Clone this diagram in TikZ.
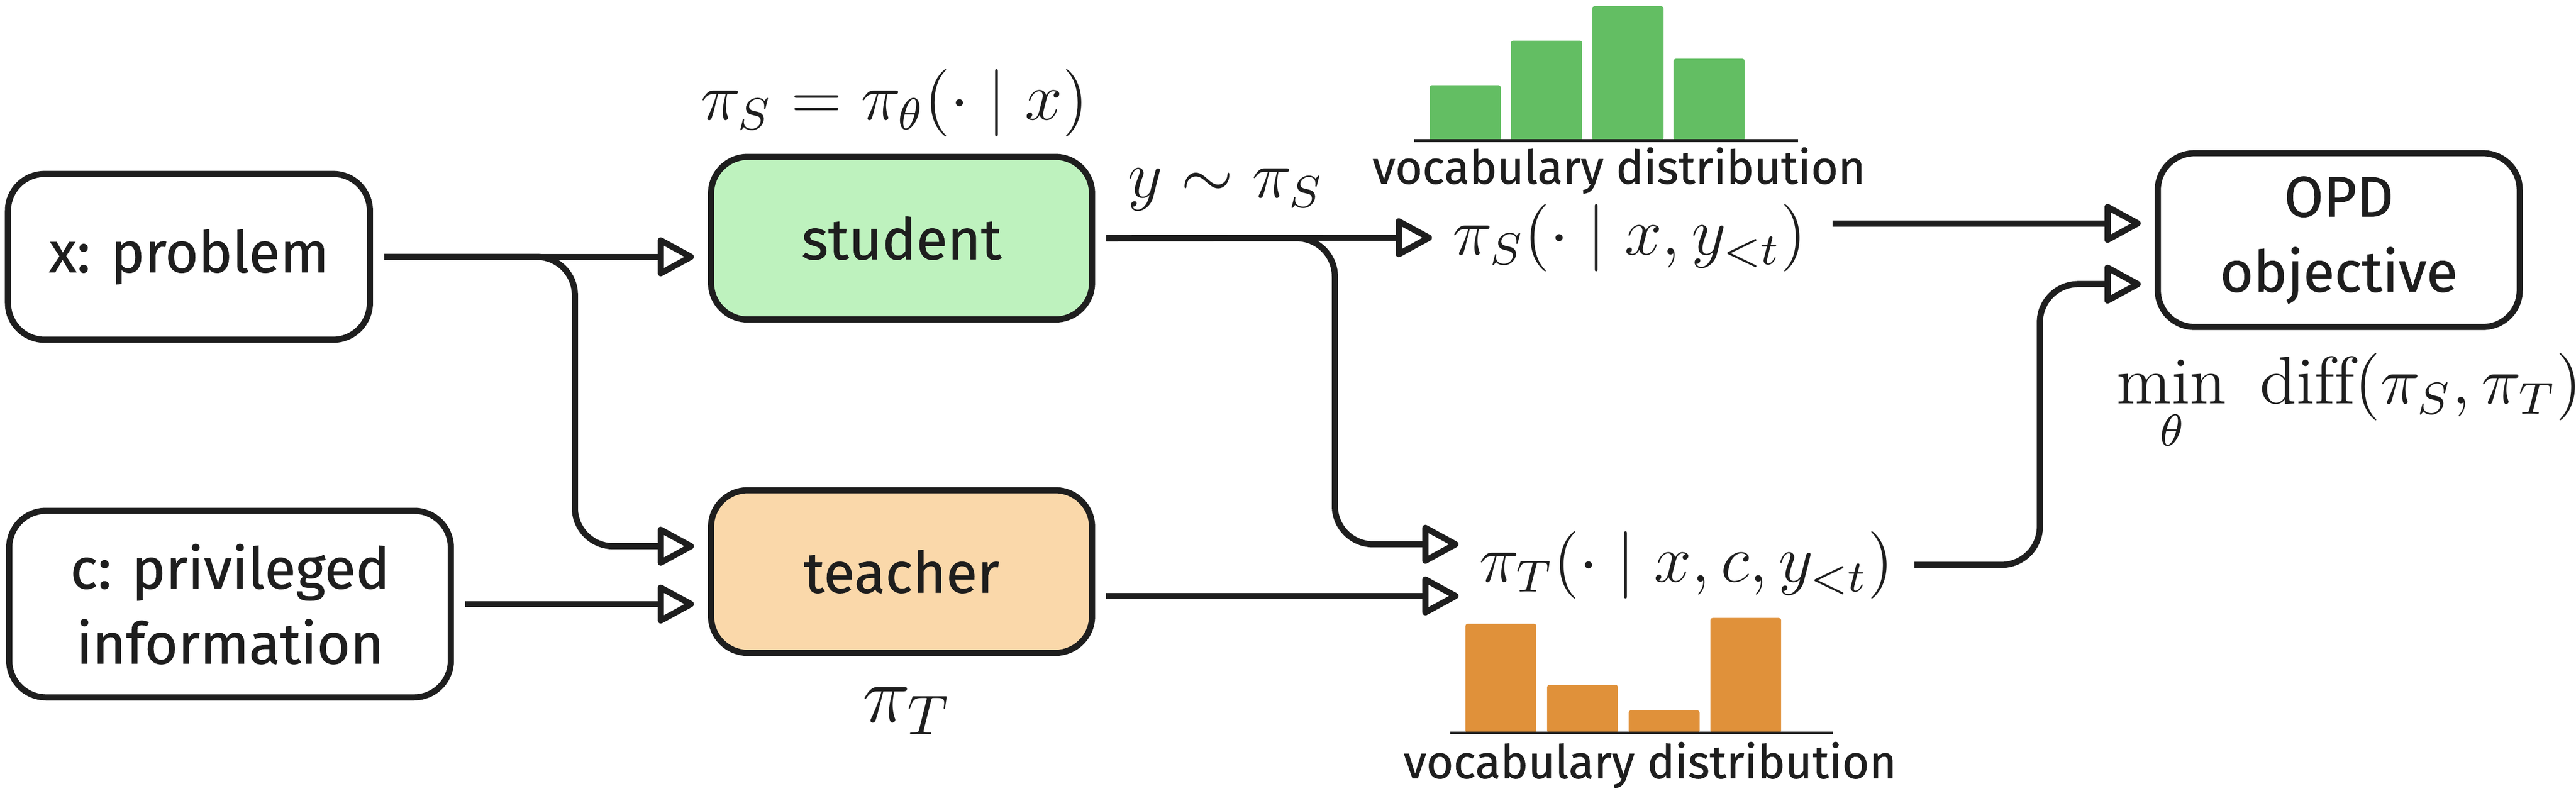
\documentclass[tikz,border=0pt]{standalone}
\usepackage{fontspec}
\setsansfont[FakeBold=0.7]{Fira Sans}
\usepackage{amsmath}
\usetikzlibrary{arrows.meta,calc}

\definecolor{ink}{HTML}{1E1E1E}
\definecolor{stufill}{HTML}{BEF2BE}
\definecolor{teafill}{HTML}{FAD8AA}
\definecolor{stubar}{HTML}{63BE63}
\definecolor{teabar}{HTML}{E0913A}

\begin{document}
\begin{tikzpicture}[x=0.3cm, y=0.3cm,
  box/.style={draw=ink, line width=1.1pt, rounded corners=0.23cm, align=center, text=ink, font=\sffamily\fontsize{10.2}{13.4}\selectfont},
  flow/.style={draw=ink, line width=1.1pt, rounded corners=0.24cm, shorten <=2pt, shorten >=2.5pt, -{Triangle[open, length=0.25cm, width=0.26cm, round]}},
  lab/.style={inner sep=0pt, text=ink, font=\large},
  vocab/.style={inner sep=0pt, text=ink, font=\sffamily\fontsize{8.3}{10}\selectfont}]
  \useasboundingbox (0,0) rectangle (53.86,16.64);

  \node[box, minimum width=2.27cm, minimum height=1.04cm] (xprob) at (3.95,11.27) {x: problem};
  \node[box, minimum width=2.77cm, minimum height=1.17cm] (priv) at (4.81,4.01) {c: privileged\\information};
  \node[box, fill=stufill, minimum width=2.39cm, minimum height=1.02cm] (student) at (18.85,11.66) {student};
  \node[box, fill=teafill, minimum width=2.39cm, minimum height=1.02cm] (teacher) at (18.85,4.69) {teacher};
  \node[box, minimum width=2.27cm, minimum height=1.09cm] (opd) at (48.90,11.62) {OPD\\objective};

  \node[lab] (stupol) at (18.70,14.49) {$\pi_S = \pi_\theta(\cdot \mid x)$};
  \node[lab, font=\Large, anchor=base] (teapol) at (18.96,1.54) {$\pi_T$};
  \node[lab, anchor=base] (ysample) at (25.63,12.51) {$y \sim \pi_S$};
  \node[lab] (piS) at (34.07,11.67) {$\pi_S(\cdot \mid x, y_{<t})$};
  \node[lab] (piT) at (35.26,4.83) {$\pi_T(\cdot \mid x, c, y_{<t})$};
  \node[lab, anchor=base] (minobj) at (49.12,8.20) {$\displaystyle\min_{\theta}\ \mathrm{diff}(\pi_S, \pi_T)$};

  \foreach \i/\h in {0/1.16, 1/2.09, 2/2.81, 3/1.71}
    \fill[stubar, rounded corners=0.4pt] (29.89+\i*1.70,13.70) rectangle ++(1.49,\h);
  \draw[ink, line width=0.5pt] (29.57,13.70) -- (37.59,13.70);
  \node[vocab, anchor=base] (vocS) at (33.85,12.80) {vocabulary distribution};

  \foreach \i/\h in {0/2.28, 1/1.00, 2/0.47, 3/2.40}
    \fill[teabar, rounded corners=0.4pt] (30.64+\i*1.707,1.32) rectangle ++(1.48,\h);
  \draw[ink, line width=0.5pt] (30.32,1.32) -- (38.33,1.32);
  \node[vocab, anchor=base] (vocT) at (34.50,0.37) {vocabulary distribution};

  \coordinate (xsplit) at (12.02,0);
  \coordinate (ssplit) at (27.91,0);
  \coordinate (tsplit) at (42.65,0);
  \coordinate (tin1) at ($(teacher.west)+(0,0.53)$);
  \coordinate (pin1) at ($(piT.west)+(0,0.43)$);
  \coordinate (pin2) at ($(piT.west)+(0,-0.65)$);
  \coordinate (oin1) at ($(opd.west)+(0,0.35)$);
  \coordinate (oin2) at ($(opd.west)+(0,-0.92)$);

  \draw[flow] (xprob.east) -- (student.west |- xprob.east);
  \draw[flow] (xprob.east) -| (xsplit |- tin1) -- (tin1);
  \draw[flow] (priv.east) -- (teacher.west |- priv.east);
  \draw[flow, shorten >=3.5pt] (student.east) -- (piS.west);
  \draw[flow, shorten >=3.5pt] (student.east) -| (ssplit |- pin1) -- (pin1);
  \draw[flow, shorten >=3.5pt] (teacher.east |- pin2) -- (pin2);
  \draw[flow, shorten <=4.5pt] (piS.east |- oin1) -- (oin1);
  \draw[flow, shorten <=3.5pt] (piT.east) -| (tsplit |- oin2) -- (oin2);
\end{tikzpicture}
\end{document}
